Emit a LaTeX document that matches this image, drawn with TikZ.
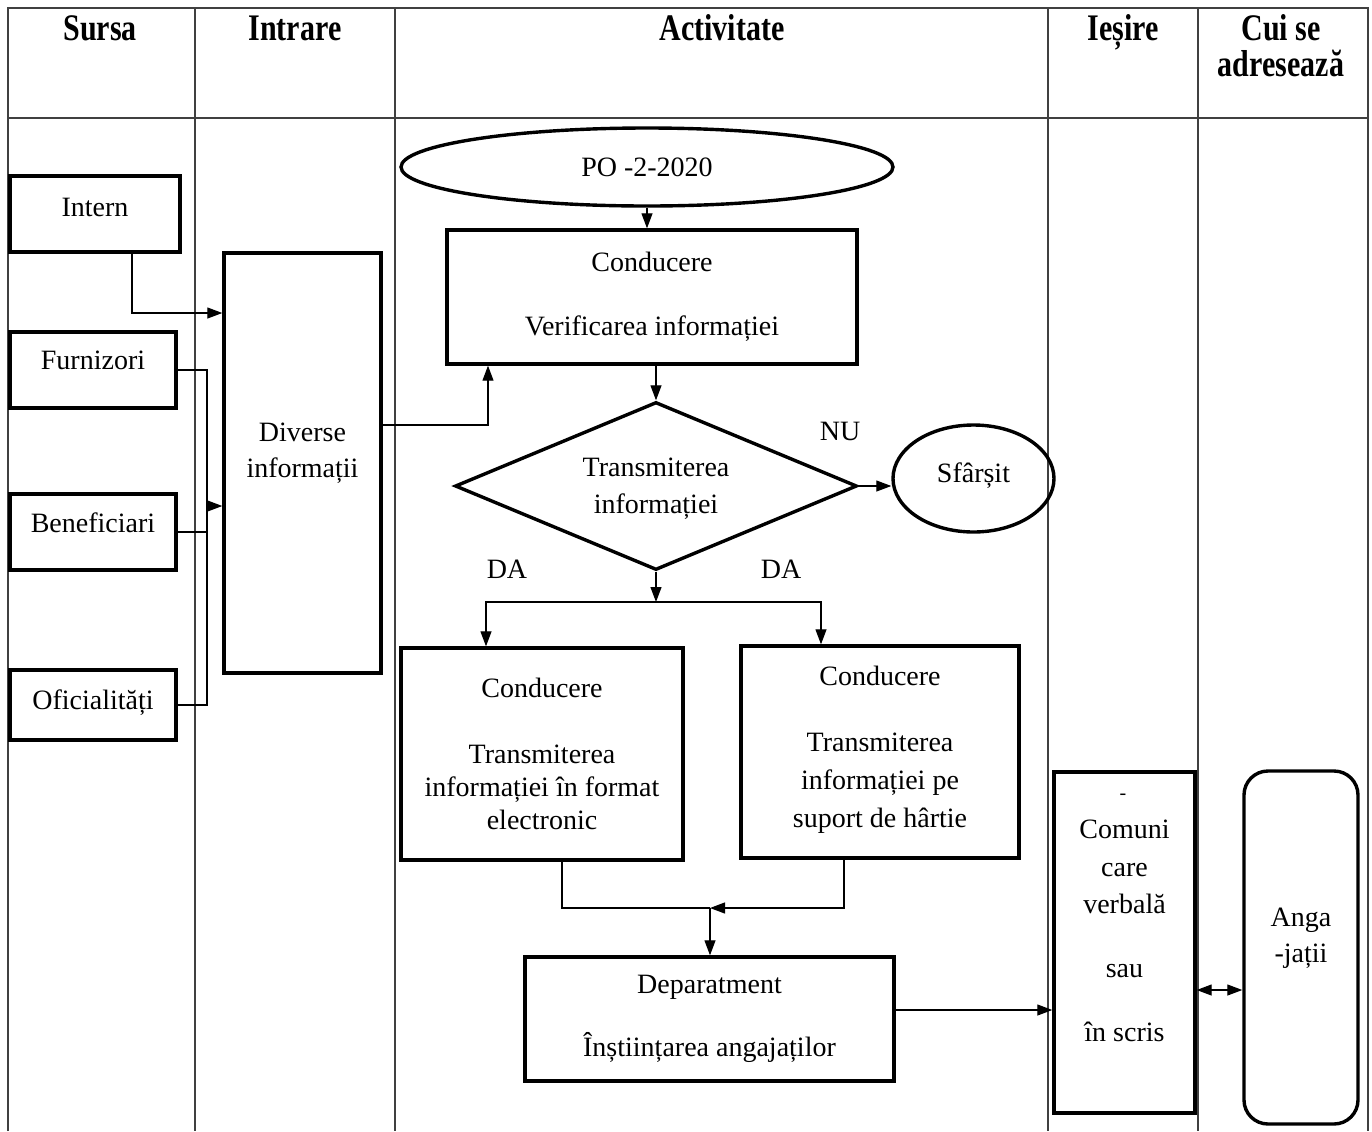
\documentclass[tikz,border=0pt]{standalone}
\usepackage{fontspec}
\setmainfont{Liberation Serif}
\usetikzlibrary{arrows.meta,shapes.geometric,calc}
\newcommand{\tallhdr}[1]{\scalebox{1}[1.25]{#1}}
\begin{document}
\begin{tikzpicture}[x=0.5pt,y=-0.5pt,
  tbl/.style={line width=0.6pt,draw=black!75},
  hdr/.style={font=\bfseries\fontsize{15}{18}\selectfont,inner sep=0pt,anchor=base},
  box/.style={draw,line width=1.7pt,rectangle,inner sep=0pt,align=center,font=\fontsize{14}{18}\selectfont},
  oval/.style={draw,line width=1.7pt,ellipse,inner sep=0pt,align=center,font=\fontsize{14}{18}\selectfont},
  lbl/.style={inner sep=0pt,font=\fontsize{14}{18}\selectfont},
  conn/.style={line width=0.6pt},
  arr/.style={conn,-{Triangle[length=7.5pt,width=5.5pt]}},
  arrboth/.style={conn,{Triangle[length=7.5pt,width=5.5pt]}-{Triangle[length=7.5pt,width=5.5pt]}}]
\useasboundingbox (0,0) rectangle (1372,1131);
\fill[white] (0,0) rectangle (1372,1131);
% table
\draw[tbl] (8,1131) -- (8,8) -- (1368,8) -- (1368,1131);
\draw[tbl] (8,118) -- (1368,118);
\foreach \cx in {195,395,1048,1198} \draw[tbl] (\cx,8) -- (\cx,1131);
\node[hdr] (h1) at (100,40) {\tallhdr{Sursa}};
\node[hdr] (h2) at (295,40) {\tallhdr{Intrare}};
\node[hdr] (h3) at (722,40) {\tallhdr{Activitate}};
\node[hdr] (h4) at (1123,40) {\tallhdr{Ieșire}};
\node[hdr] (h5a) at (1281,40) {\tallhdr{Cui se}};
\node[hdr] (h5b) at (1281,76) {\tallhdr{adresează}};
% source boxes
\node[box,minimum width=85pt,minimum height=38pt] (intern) at (95,214) {Intern\\[-11pt]\mbox{}};
\node[box,minimum width=83pt,minimum height=38pt] (furn) at (93,370) {Furnizori\\[-8pt]\mbox{}};
\node[box,minimum width=83pt,minimum height=38pt] (benef) at (93,532) {Beneficiari\\[-9pt]\mbox{}};
\node[box,minimum width=83pt,minimum height=35pt] (ofic) at (93,705) {Oficialități\\[-13pt]\mbox{}};
\node[box,minimum width=78.5pt,minimum height=210pt] (diverse) at (302.5,463) {Diverse\\informații\\[-5pt]\mbox{}};
% activity
\node[oval,minimum width=246pt,minimum height=39pt] (po) at (647,167) {PO -2-2020};
\node[box,minimum width=205pt,minimum height=67pt] (verif) at (652,297) {Conducere\\[14pt]Verificarea informației};
\node[draw,line width=1.7pt,diamond,inner sep=0pt,minimum width=201pt,minimum height=84pt] (diam) at (656,486) {};
\node[lbl,align=center,font=\fontsize{14}{18.5}\selectfont] (diamtxt) at (656,489) {Transmiterea\\informației};
\node[oval,minimum width=80.5pt,minimum height=53.5pt] (sf) at (973.5,478.5) {Sfârșit\\[-12pt]\mbox{}};
\node[lbl] (nu) at (840,431) {NU};
\node[lbl] (da1) at (507,569) {DA};
\node[lbl] (da2) at (781,569) {DA};
\node[box,minimum width=141pt,minimum height=106pt,font=\fontsize{14}{16.5}\selectfont] (elec) at (542,754) {Conducere\\[16.5pt]Transmiterea\\informației în format\\electronic};
\node[box,minimum width=139pt,minimum height=106pt,font=\fontsize{14}{19}\selectfont] (paper) at (880,752) {Conducere\\[14pt]Transmiterea\\informației pe\\suport de hârtie\\[-14pt]\mbox{}};
\node[box,minimum width=184.5pt,minimum height=62pt] (dep) at (709.5,1019) {Deparatment\\[13.5pt]Înștiințarea angajaților\\[-15pt]\mbox{}};
% output
\node[box,minimum width=70.5pt,minimum height=170.5pt,font=\fontsize{14}{18.8}\selectfont] (com) at (1124.5,942.5) {Comuni\\care\\verbală\\[13pt]sau\\[13pt]în scris\\[-7pt]\mbox{}};
\node[lbl,font=\fontsize{10}{12}\selectfont] (comdash) at (1123,797) {-};
\node[box,rounded corners=12pt,minimum width=57pt,minimum height=176.5pt] (anga) at (1301,947.5) {Anga\\-jații\\[-6pt]\mbox{}};
% connectors
\draw[arr] ([xshift=18.5pt]intern.south) |- (diverse.west |- 0,313);
\coordinate (jx) at (207,0);
\draw[conn] (furn.east) -- (furn.east -| jx) -- (ofic.east -| jx) -- (ofic.east);
\draw[conn] (benef.east) -- (benef.east -| jx);
\draw[arr] (jx |- 0,506) -- (diverse.west |- 0,506);
\draw[arr] (diverse.east |- 0,425) -| ([xshift=-82pt]verif.south);
\draw[arr] (po.south) -- (po.south |- verif.north);
\draw[arr] (verif.south -| diam.north) -- (diam.north);
\draw[arr] (diam.east) -- (diam.east -| sf.west);
\coordinate (split) at (656,602);
\draw[arr] (diam.south) -- (split);
\draw[arr] (split) -| ([xshift=-28pt]elec.north);
\draw[arr] (split) -| ([xshift=-29.5pt]paper.north);
\coordinate (merge) at (710,908);
\draw[conn] ([xshift=10pt]elec.south) |- (merge);
\draw[arr] ([xshift=-18pt]paper.south) |- (merge);
\draw[arr] (merge) -- (dep.north -| merge);
\draw[arr] (dep.east |- 0,1010) -- (com.west |- 0,1010);
\draw[arrboth] (com.east |- 0,990) -- (anga.west |- 0,990);
\end{tikzpicture}
\end{document}
